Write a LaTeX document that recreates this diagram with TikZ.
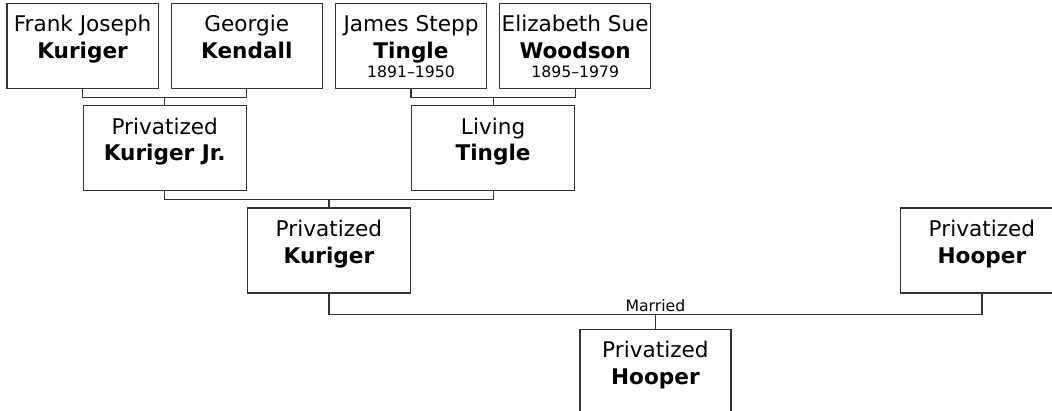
\documentclass[tikz,border=0pt]{standalone}
\usepackage{fontspec}
\setmainfont{DejaVu Sans}
\usepackage{tikz}
\usetikzlibrary{positioning,calc}

\newcommand{\who}[3]{\rule{0pt}{11.4pt}#1\\\textbf{#2}\\[-3.8pt]{\fontsize{7.85}{9}\selectfont #3\strut}}

\begin{document}
\begin{tikzpicture}[
      person/.style={draw=black!80, line width=0.6pt, align=center, inner sep=0pt, minimum width=75.5pt, minimum height=42.5pt, font=\fontsize{10.8}{13.3}\selectfont},
      wide/.style={person, minimum width=81.5pt},
      link/.style={draw=black!80, line width=0.6pt},
    ]
      \node[person] (fj) at (0,0) {\who{Frank Joseph}{Kuriger}{}};
      \node[person, right=6pt of fj] (gk) {\who{Georgie}{Kendall}{}};
      \node[person, right=6pt of gk] (jt) {\who{James Stepp}{Tingle}{1891–1950}};
      \node[person, right=6pt of jt] (es) {\who{Elizabeth Sue}{Woodson}{1895–1979}};

      \useasboundingbox ($(fj.north west)+(-3.25pt,1.5pt)$) rectangle ++(526pt,-205.5pt);

      \coordinate (u1) at ($(fj.south)!0.5!(gk.south)+(0,-4pt)$);
      \coordinate (u2) at ($(jt.south)!0.5!(es.south)+(0,-4pt)$);
      \node[wide, below=4pt of u1] (kj) {\who{Privatized}{Kuriger Jr.}{}};
      \node[wide, below=4pt of u2] (lt) {\who{Living}{Tingle}{}};

      \coordinate (u3) at ($(kj.south)!0.5!(lt.south)+(0,-4pt)$);
      \node[wide, below=4pt of u3] (pk) {\who{Privatized}{Kuriger}{}};
      \node[wide, right=244.4pt of pk] (ph) {\who{Privatized}{Hooper}{}};

      \coordinate (mar) at ($(pk.south)!0.5!(ph.south)+(0,-10.5pt)$);
      \node[person, below=7pt of mar] (hp) {\who{Privatized}{Hooper}{}};
      \node[above=0pt of mar, inner sep=1pt, font=\fontsize{7.85}{9}\selectfont] (married) {Married};

      \draw[link] (fj.south) |- (u1) -| (gk.south);
      \draw[link] (jt.south) |- (u2) -| (es.south);
      \draw[link] (u1) -- (kj.north);
      \draw[link] (u2) -- (lt.north);
      \draw[link] (kj.south) |- (u3) -| (lt.south);
      \draw[link] (u3) -- (pk.north);
      \draw[link] (pk.south) |- (mar) -| (ph.south);
      \draw[link] (mar) -- (hp.north);
    \end{tikzpicture}
\end{document}
